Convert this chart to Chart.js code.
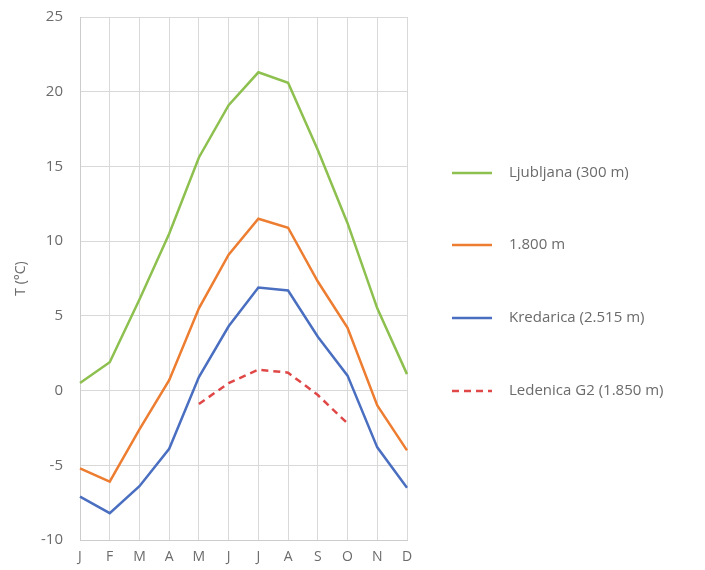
<!DOCTYPE html>
<html lang="en">
<head>
    <meta charset="UTF-8">
    <title>T (°C)</title>
    <script src="https://cdn.jsdelivr.net/npm/chart.js"></script>
    <style>
        html, body { margin: 0; padding: 0; background: #fff; }
        #wrap { width: 705px; height: 570px; }
    </style>
</head>
<body>
    <div id="wrap"><canvas id="tempChart"></canvas></div>

    <script>
        // mesece in povprečne temperature
        var months = ['J', 'F', 'M', 'A', 'M', 'J', 'J', 'A', 'S', 'O', 'N', 'D'];
        var ljubljana = [0.5, 1.9, 6.1, 10.5, 15.6, 19.1, 21.3, 20.6, 16.1, 11.2, 5.5, 1.1];
        var m1800 = [-5.2, -6.1, -2.6, 0.7, 5.5, 9.1, 11.5, 10.9, 7.3, 4.2, -1.0, -4.0];
        var kredarica = [-7.1, -8.2, -6.4, -3.9, 0.9, 4.3, 6.9, 6.7, 3.6, 1.0, -3.8, -6.5];
        var ledenica = [null, null, null, null, -0.9, 0.5, 1.4, 1.2, -0.3, -2.2, null, null];
        var yTicks = [-10, -5, 0, 5, 10, 15, 20, 25];

        var textColor = '#6b6b6b';
        var gridColor = '#d9d9d9';

        // legenda desno, narisana ročno
        var sideLegend = {
            id: 'sideLegend',
            afterDraw: function (chart) {
                var ctx = chart.ctx;
                var rows = [173, 245, 318, 391];
                ctx.save();
                chart.data.datasets.forEach(function (ds, i) {
                    var y = rows[i];
                    ctx.beginPath();
                    ctx.setLineDash(ds.borderDash || []);
                    ctx.strokeStyle = ds.borderColor;
                    ctx.lineWidth = ds.borderWidth;
                    ctx.moveTo(452, y);
                    ctx.lineTo(492, y);
                    ctx.stroke();
                    ctx.setLineDash([]);
                    ctx.fillStyle = textColor;
                    ctx.font = '15px "Open Sans"';
                    ctx.textBaseline = 'middle';
                    ctx.fillText(ds.label, 509, y);
                });
                ctx.restore();
            }
        };

        new Chart(document.getElementById('tempChart'), {
            type: 'line',
            data: {
                labels: months,
                datasets: [
                    { label: 'Ljubljana (300 m)', data: ljubljana, borderColor: '#8dc04f', borderWidth: 2.5 },
                    { label: '1.800 m', data: m1800, borderColor: '#ed7d31', borderWidth: 2.5 },
                    { label: 'Kredarica (2.515 m)', data: kredarica, borderColor: '#4a6fc0', borderWidth: 2.5 },
                    { label: 'Ledenica G2 (1.850 m)', data: ledenica, borderColor: '#e04848', borderWidth: 2.5, borderDash: [7, 5] }
                ]
            },
            options: {
                responsive: true,
                maintainAspectRatio: false,
                animation: false,
                elements: {
                    point: { radius: 0 },
                    line: { tension: 0, fill: false }
                },
                layout: { padding: { top: 17, right: 298, bottom: 4, left: 13 } },
                plugins: {
                    legend: { display: false },
                    tooltip: { enabled: false }
                },
                scales: {
                    x: {
                        offset: false,
                        afterFit: function (axis) {
                            axis.height = 26;
                        },
                        grid: { color: gridColor, drawTicks: false },
                        border: { color: '#cccccc' },
                        ticks: { color: textColor, font: { family: 'Open Sans', size: 14 }, padding: 9, maxRotation: 0, autoSkip: false }
                    },
                    y: {
                        min: -10,
                        max: 25,
                        afterBuildTicks: function (axis) {
                            axis.ticks = yTicks.map(function (v) { return { value: v }; });
                        },
                        afterFit: function (axis) {
                            // fiksna širina osi, brez dodatnega prostora zgoraj/spodaj
                            axis.width = 67;
                            axis.paddingTop = 0;
                            axis.paddingBottom = 0;
                        },
                        grid: { color: gridColor, drawTicks: false },
                        border: { color: '#cccccc' },
                        title: { display: true, text: 'T (°C)', color: textColor, font: { family: 'Open Sans', size: 14 }, padding: { top: 0, bottom: 0 } },
                        ticks: { color: textColor, font: { family: 'Open Sans', size: 15 }, padding: 17 }
                    }
                }
            },
            plugins: [sideLegend]
        });
    </script>
</body>
</html>
